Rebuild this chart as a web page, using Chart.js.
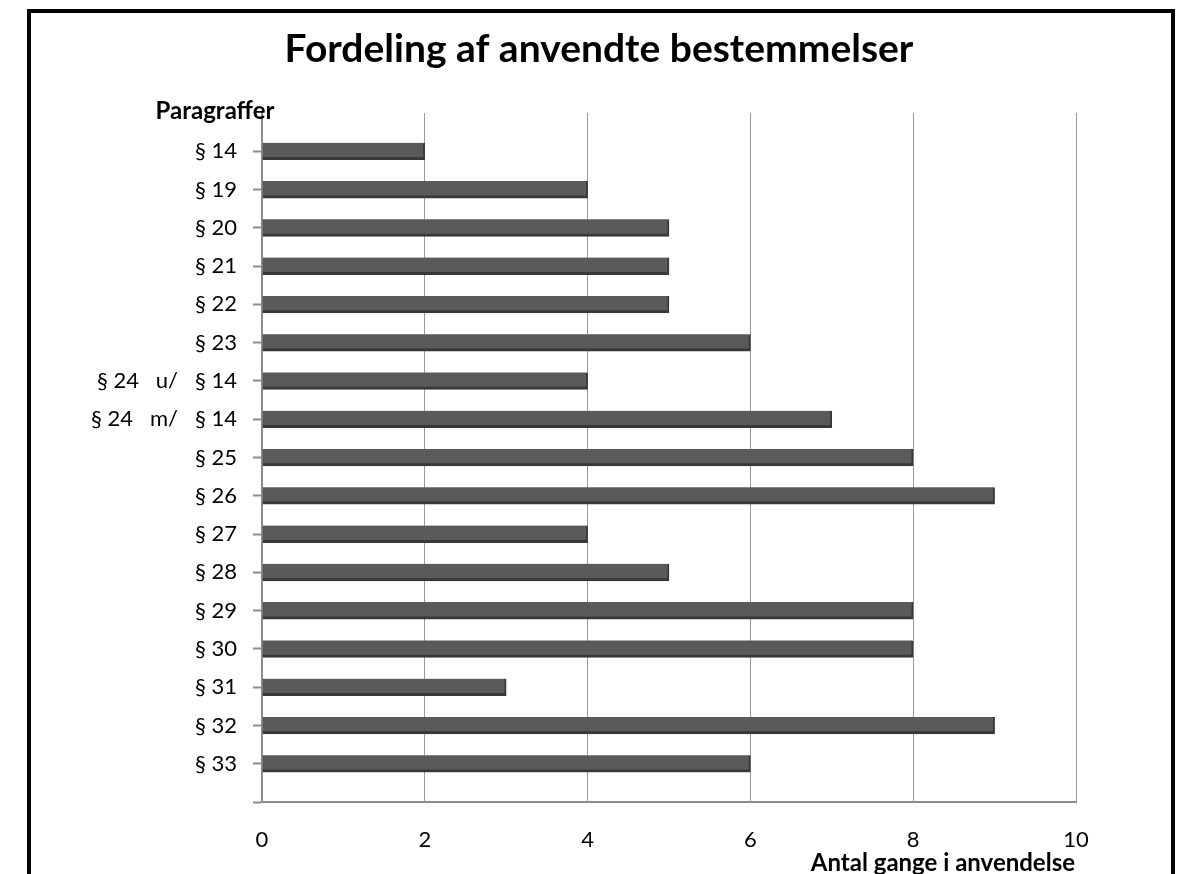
<!DOCTYPE html>
<html>
<head>
<meta charset="utf-8">
<script src="https://cdn.jsdelivr.net/npm/chart.js@4"></script>
<style>
  html, body { margin: 0; padding: 0; background: #fff; }
  #wrap { position: relative; width: 1186px; height: 874px; overflow: hidden; }
  #frame { position: absolute; left: 27px; top: 9px; width: 1140px; height: 900px; border: 4px solid #000; }
  #c { position: absolute; left: 0; top: 0; }
</style>
</head>
<body>
<div id="wrap">
  <div id="frame"></div>
  <canvas id="c" width="1186" height="874"></canvas>
</div>
<script>
// ================= DATA =================
const paragraphs = ["§ 14", "§ 19", "§ 20", "§ 21", "§ 22", "§ 23", "§ 24   u/   § 14", "§ 24   m/   § 14",
    "§ 25", "§ 26", "§ 27", "§ 28", "§ 29", "§ 30", "§ 31", "§ 32", "§ 33"];
const timesUsed = [2, 4, 5, 5, 5, 6, 4, 7, 8, 9, 4, 5, 8, 8, 3, 9, 6];
const xTicks = [0, 2, 4, 6, 8, 10];

const chartTitle = "Fordeling af anvendte bestemmelser";
const yTitle = "Paragraffer";
const xTitle = "Antal gange i anvendelse";

// empty slot above and below, so categories sit on the tick positions
let labels = [""].concat(paragraphs, [""]);
let values = [null].concat(timesUsed, [null]);

// ================= TEXT =================
const textPlugin = {
    id: "texts",
    afterDraw(chart) {
        let ctx = chart.ctx;
        ctx.save();
        ctx.fillStyle = "#000";
        ctx.textBaseline = "alphabetic";

        ctx.font = "bold 39px Lato";
        ctx.textAlign = "center";
        ctx.fillText(chartTitle, 599, 62);

        ctx.font = "bold 24px Lato";
        ctx.textAlign = "center";
        ctx.fillText(yTitle, 215, 119);

        ctx.font = "bold 24px Lato";
        ctx.textAlign = "right";
        ctx.fillText(xTitle, 1075, 871);
        ctx.restore();
    }
};

// ================= CHART =================
new Chart(document.getElementById("c"), {
    type: "bar",
    data: {
        labels: labels,
        datasets: [{
            data: values,
            backgroundColor: "#5a5a5a",
            borderColor: "#383838",
            borderWidth: { top: 0, right: 2, bottom: 3, left: 0 },
            borderSkipped: false,
            barThickness: 17
        }]
    },
    options: {
        indexAxis: "y",
        responsive: false,
        animation: false,
        layout: { padding: { top: 113, right: 110, bottom: 0, left: 0 } },
        plugins: {
            legend: { display: false },
            title: { display: false },
            tooltip: { enabled: false }
        },
        scales: {
            x: {
                min: 0,
                max: 10,
                afterBuildTicks(scale) {
                    scale.ticks = xTicks.map(v => ({ value: v }));
                },
                afterFit(scale) { scale.height = 72; },
                grid: { color: "#9a9a9a", lineWidth: 1, drawTicks: false },
                border: { color: "#8c8c8c", width: 2 },
                ticks: {
                    color: "#000",
                    font: { family: "Lato", size: 22 },
                    padding: 25
                }
            },
            y: {
                offset: false,
                afterFit(scale) { scale.width = 262; },
                grid: {
                    offset: false,
                    drawOnChartArea: false,
                    tickLength: 9,
                    tickColor: ctx => ctx.index === 0 ? "rgba(0,0,0,0)" : "#8c8c8c",
                    tickWidth: 2
                },
                border: { color: "#8c8c8c", width: 2 },
                ticks: {
                    color: "#000",
                    font: { family: "Lato", size: 22 },
                    padding: 16,
                    autoSkip: false
                }
            }
        }
    },
    plugins: [textPlugin]
});
</script>
</body>
</html>
